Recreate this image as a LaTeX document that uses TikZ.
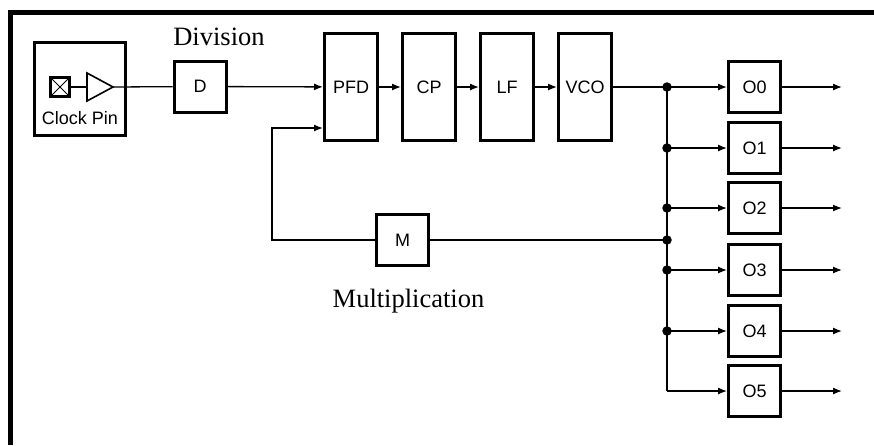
\documentclass[tikz,border=0pt]{standalone}
\usepackage{fontspec}
\setmainfont{Liberation Serif}
\setsansfont{Liberation Sans}
\usetikzlibrary{arrows.meta,positioning}

\begin{document}
\begin{tikzpicture}[x=1pt,y=-1pt,>={Latex[length=9pt,width=7pt]},line width=1.3pt]

    % Define node styles
    \tikzstyle{block} = [draw, line width=3pt, rectangle, minimum width=53pt, minimum height=107pt, font=\sffamily\fontsize{18}{20}\selectfont]
    \tikzstyle{small} = [draw, line width=3pt, rectangle, minimum width=52pt, minimum height=51pt, font=\sffamily\fontsize{18}{20}\selectfont]
    \tikzstyle{caption} = [anchor=base, inner sep=0pt, font=\fontsize{26.5}{30}\selectfont]
    \tikzstyle{dot} = [fill, circle, inner sep=0pt, minimum size=9.5pt]

    \useasboundingbox (0,0) rectangle (874,445);

    % Frame
    \draw[line width=5pt] (10,445) -- (10,12) -- (874,12);

    % Clock pin
    \node[draw, line width=3pt, minimum width=91pt, minimum height=93pt] (clk) at (80,89) {};
    \node[draw, line width=2.5pt, outer sep=0pt, inner sep=0pt, minimum size=19pt] (pad) at (60,87) {};
    \draw[line width=1pt] (pad.north west) -- (pad.south east) (pad.north east) -- (pad.south west);
    \coordinate (bufin) at (87,87);
    \coordinate (bufout) at (113,87);
    \draw[line width=1.6pt, line join=miter] (87,73) -- (bufout) -- (87,101) -- cycle;
    \node[anchor=base, inner sep=0pt, font=\sffamily\fontsize{18}{20}\selectfont] (clktext) at (80,124) {Clock Pin};

    % Draw nodes
    \node[small] (d) at (200,86.5) {D};
    \node[caption] (div) at (219,45) {Division};
    \node[block] (pfd) at (351,87) {PFD};
    \node[block, right=22pt of pfd] (cp) {CP};
    \node[block, right=22pt of cp] (lf) {LF};
    \node[block, right=22pt of lf] (vco) {VCO};
    \node[small] (m) at (402.5,240) {M};
    \node[caption] (mult) at (408.5,307) {Multiplication};
    \foreach \i/\y in {0/87,1/148,2/208,3/270,4/331,5/391} {
        \node[small] (o\i) at (754.5,\y) {O\i};
        \coordinate (b\i) at (667,\y);
        \coordinate (out\i) at (842,\y);
    }
    \coordinate (bm) at (667,240);

    % Draw arrows
    \draw (pad.east) -- (bufin);
    \draw (bufout) -- (d);
    \draw[->] (d) -- (pfd);
    \draw[->] (pfd) -- (cp);
    \draw[->] (cp) -- (lf);
    \draw[->] (lf) -- (vco);
    \draw (vco) -- (b0);
    \draw (b0) -- (b5);
    \draw (m) -- (bm);
    \draw[->] (m.west) -- ++(-103,0) |- ([yshift=-41pt]pfd.west);
    \foreach \i in {0,...,5} {
        \draw[->] (b\i) -- (o\i);
        \draw[->] (o\i) -- (out\i);
    }
    \foreach \p in {b0,b1,b2,b3,b4,bm}
        \node[dot] at (\p) {};

\end{tikzpicture}
\end{document}
